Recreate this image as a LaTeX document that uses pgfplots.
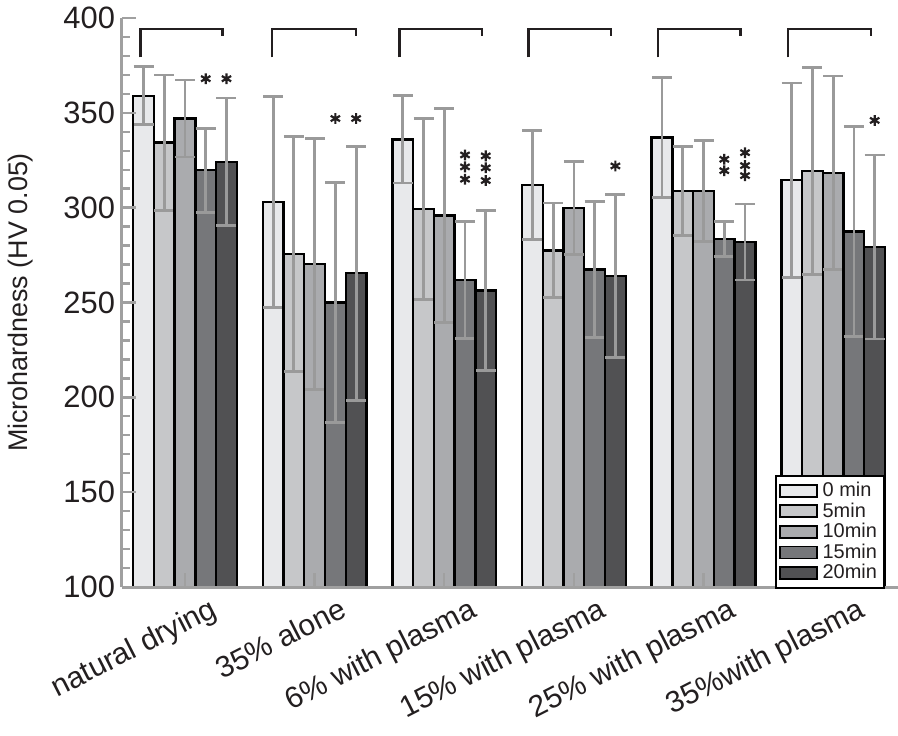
\documentclass[border=0pt]{standalone}
\usepackage{pgfplots}
\pgfplotsset{compat=1.18}
\usepackage{pgfplotstable}
\usepackage{fontspec}
\setmainfont{Liberation Sans}
\definecolor{cA}{HTML}{E8E9EB}
\definecolor{cB}{HTML}{C6C7C9}
\definecolor{cC}{HTML}{AAABAE}
\definecolor{cD}{HTML}{76777A}
\definecolor{cE}{HTML}{515153}
\definecolor{axgray}{HTML}{A0A0A0}
\definecolor{errgray}{HTML}{9A9A9A}
\definecolor{txt}{HTML}{231F20}

\pgfplotstableread{
g y e
1 359.0 15.3
2 303.0 55.5
3 336.0 23.0
4 312.0 28.7
5 337.0 31.6
6 314.5 51.2
}\tA
\pgfplotstableread{
g y e
1 334.3 35.6
2 275.5 62.0
3 299.3 47.6
4 277.5 25.0
5 308.8 23.3
6 319.3 54.6
}\tB
\pgfplotstableread{
g y e
1 347.0 20.3
2 270.3 66.0
3 295.8 56.3
4 299.8 24.7
5 308.8 26.7
6 318.4 51.0
}\tC
\pgfplotstableread{
g y e
1 319.7 22.2
2 250.1 63.2
3 261.9 30.9
4 267.3 35.9
5 283.5 9.2
6 287.4 55.3
}\tD
\pgfplotstableread{
g y e
1 324.1 33.7
2 265.4 67.0
3 256.3 42.2
4 264.0 43.0
5 281.9 20.0
6 279.3 48.5
}\tE
% significance asterisks (x = bar centre, y = glyph centre)
\pgfplotstableread{
x y
1.16 368.0
1.32 368.0
2.16 347.0
2.32 347.0
3.16 327.8
3.16 321.5
3.16 315.0
3.32 327.3
3.32 321.0
3.32 314.3
4.32 322.0
5.16 325.5
5.16 319.5
5.32 329.0
5.32 322.2
5.32 316.9
6.32 346.0
}\tStars

\pgfplotsset{
  myerr/.style={
    error bars/.cd, y dir=both, y explicit,
    error bar style={line width=1.4bp, draw=errgray},
    error mark options={rotate=90, mark size=5bp, line width=1.4bp, draw=errgray},
    /pgfplots/.cd},
  bracket/.style={sharp plot, no marks, draw=txt, line width=1.25bp, forget plot},
}

\begin{document}
\begin{tikzpicture}
\begin{axis}[
  at={(0,0)}, anchor=south west,
  scale only axis, width=388bp, height=284.5bp,
  xmin=0.514, xmax=6.5, ymin=100, ymax=400,
  axis x line*=bottom, axis y line*=left,
  axis line style={draw=axgray, line width=1.5bp},
  axis on top,
  clip=false,
  xtick={1,2,3,4,5,6},
  xticklabels={natural drying, 35\% alone, 6\% with plasma, 15\% with plasma, 25\% with plasma, 35\%with plasma},
  ytick={100,150,...,400},
  minor y tick num=4,
  tick align=inside,
  major tick length=7bp, minor tick length=4bp,
  tick style={draw=axgray, line width=1.2bp},
  /pgf/number format/assume math mode=true,
  tick label style={font=\fontsize{15.5}{17}\selectfont, text=txt},
  xticklabel style={font=\fontsize{15}{17}\selectfont, rotate=27, anchor=north east, xshift=12bp, yshift=-6bp},
  ylabel={Microhardness (HV 0.05)},
  ylabel style={font=\fontsize{13.5}{16}\selectfont, text=txt, at={(axis description cs:-0.131,0.5)}, anchor=center, rotate=0},
  legend cell align=left,
  legend image code/.code={\draw[#1,/tikz/.cd,line width=0.9bp, draw=black] (0bp,-3bp) rectangle (18.5bp,3bp);},
  legend style={at={(axis description cs:0.983,-0.003)}, anchor=south east,
    font=\fontsize{10}{10}\selectfont, text=txt, draw=black, line width=0.9bp,
    row sep=-2.4bp, inner xsep=1.5bp, inner ysep=1bp,
    /tikz/every odd column/.append style={column sep=0.5bp}},
]
\addplot[ybar, bar width=0.16, bar shift=0, fill=cA, draw=black, line width=1.2bp, myerr] table[x expr=\thisrow{g}-0.32, y=y, y error=e]{\tA};
\addlegendentry{0 min}
\addplot[ybar, bar width=0.16, bar shift=0, fill=cB, draw=black, line width=1.2bp, myerr] table[x expr=\thisrow{g}-0.16, y=y, y error=e]{\tB};
\addlegendentry{5min}
\addplot[ybar, bar width=0.16, bar shift=0, fill=cC, draw=black, line width=1.2bp, myerr] table[x expr=\thisrow{g}, y=y, y error=e]{\tC};
\addlegendentry{10min}
\addplot[ybar, bar width=0.16, bar shift=0, fill=cD, draw=black, line width=1.2bp, myerr] table[x expr=\thisrow{g}+0.16, y=y, y error=e]{\tD};
\addlegendentry{15min}
\addplot[ybar, bar width=0.16, bar shift=0, fill=cE, draw=black, line width=1.2bp, myerr] table[x expr=\thisrow{g}+0.32, y=y, y error=e]{\tE};
\addlegendentry{20min}

\addplot[only marks, mark=asterisk, mark size=2.7bp, mark options={draw=txt, line width=1.1bp}, forget plot] table[x=x, y=y]{\tStars};

\addplot[bracket] coordinates {(0.655,379.3) (0.655,394.2) (1.29,394.2) (1.29,390.3)};
\addplot[bracket] coordinates {(1.67,379.3) (1.67,394.2) (2.32,394.2) (2.32,390.3)};
\addplot[bracket] coordinates {(2.655,379.3) (2.655,394.2) (3.29,394.2) (3.29,390.3)};
\addplot[bracket] coordinates {(3.648,379.3) (3.648,394.2) (4.285,394.2) (4.285,390.3)};
\addplot[bracket] coordinates {(4.648,379.3) (4.648,394.2) (5.285,394.2) (5.285,390.3)};
\addplot[bracket] coordinates {(5.652,379.3) (5.652,394.2) (6.292,394.2) (6.292,390.3)};
\end{axis}
\pgfresetboundingbox
\path (-61bp,-74.5bp) rectangle (388bp,293.5bp);
\end{tikzpicture}
\end{document}
